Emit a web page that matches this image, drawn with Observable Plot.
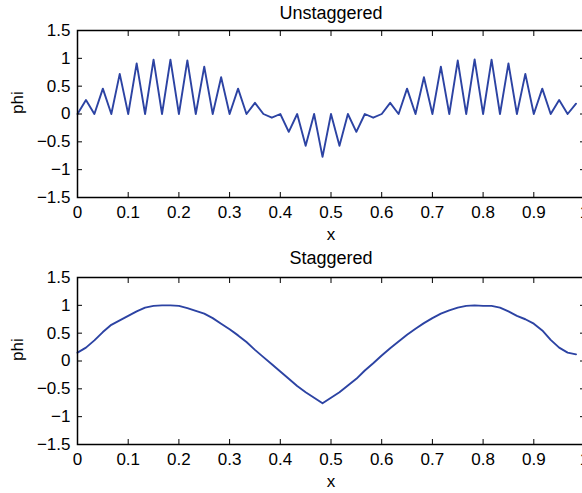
<!DOCTYPE html>
<html>
<head>
<meta charset="utf-8">
<script src="https://cdn.jsdelivr.net/npm/d3@7"></script>
<script src="https://cdn.jsdelivr.net/npm/@observablehq/plot@0.6"></script>
<style>
  html, body { margin: 0; padding: 0; overflow: hidden; background: #fff; }
  #chart { width: 582px; height: 493px; overflow: hidden; }
  #chart svg { display: block; max-width: none !important; }
</style>
</head>
<body>
<div id="chart"></div>
<script>
// Grid x positions (cell index / 60)
const xGrid = [0, 0.0167, 0.0333, 0.05, 0.0667, 0.0833, 0.1, 0.1167, 0.1333, 0.15,
  0.1667, 0.1833, 0.2, 0.2167, 0.2333, 0.25, 0.2667, 0.2833, 0.3, 0.3167,
  0.3333, 0.35, 0.3667, 0.3833, 0.4, 0.4167, 0.4333, 0.45, 0.4667, 0.4833,
  0.5, 0.5167, 0.5333, 0.55, 0.5667, 0.5833, 0.6, 0.6167, 0.6333, 0.65,
  0.6667, 0.6833, 0.7, 0.7167, 0.7333, 0.75, 0.7667, 0.7833, 0.8, 0.8167,
  0.8333, 0.85, 0.8667, 0.8833, 0.9, 0.9167, 0.9333, 0.95, 0.9667, 0.9833];

const phiUnstaggered = [0, 0.25, 0, 0.455, 0, 0.72, 0, 0.91, 0, 0.976,
  0, 0.976, 0, 0.964, 0, 0.85, 0, 0.66, 0, 0.455,
  0, 0.2, 0, -0.066, 0, -0.32, 0, -0.57, 0, -0.77,
  0, -0.57, 0, -0.32, 0, -0.066, 0, 0.2, 0, 0.455,
  0, 0.66, 0, 0.85, 0, 0.96, 0, 0.98, 0, 0.976,
  0, 0.91, 0, 0.72, 0, 0.455, 0, 0.25, 0, 0.186];

const phiStaggered = [0.15, 0.24, 0.37, 0.52, 0.65, 0.73, 0.81, 0.89, 0.96, 0.99,
  1.0, 1.0, 0.99, 0.95, 0.90, 0.85, 0.77, 0.67, 0.57, 0.46,
  0.34, 0.20, 0.07, -0.06, -0.19, -0.32, -0.45, -0.56, -0.66, -0.76,
  -0.66, -0.56, -0.44, -0.32, -0.17, -0.04, 0.10, 0.23, 0.35, 0.47,
  0.58, 0.68, 0.77, 0.85, 0.91, 0.96, 0.99, 1.0, 0.99, 0.99,
  0.96, 0.89, 0.81, 0.75, 0.67, 0.55, 0.38, 0.24, 0.15, 0.12];

const titles = ["Unstaggered", "Staggered"];
const xTicks = [0, 0.1, 0.2, 0.3, 0.4, 0.5, 0.6, 0.7, 0.8, 0.9, 1];
const yTicks = [-1.5, -1, -0.5, 0, 0.5, 1, 1.5];
const xLabel = "x";
const yLabel = "phi";

const fmt = d => (d < 0 ? "\u2212" + String(-d) : String(d));
const lineColor = "#2c43a3";
const FONT = "'Liberation Sans', Arial, Helvetica, sans-serif";
const FS = 17;
const TFS = 18;

function panel(title, values, height, marginTop, marginBottom, titleDy) {
  const data = xGrid.map((x, i) => ({x, phi: values[i]}));
  return Plot.plot({
    width: 600,
    height,
    marginLeft: 77,
    marginRight: 16,
    marginTop,
    marginBottom,
    style: {fontFamily: FONT, fontSize: FS + "px", color: "#000", background: "#fff", overflow: "visible", maxWidth: "none"},
    x: {domain: [0, 1]},
    y: {domain: [-1.5, 1.5]},
    marks: [
      Plot.line(data, {x: "x", y: "phi", stroke: lineColor, strokeWidth: 1.9}),
      Plot.frame({stroke: "#000", strokeWidth: 1.5}),
      Plot.axisX({anchor: "bottom", ticks: xTicks, tickSize: -5, tickPadding: 13, tickFormat: fmt, label: null, stroke: "#000", fill: "#000", fontSize: FS}),
      Plot.axisX({anchor: "top", ticks: xTicks, tickSize: -5, tickFormat: () => "", label: null, stroke: "#000"}),
      Plot.axisY({anchor: "left", ticks: yTicks, tickSize: -5, tickPadding: 12, tickFormat: fmt, label: null, stroke: "#000", fill: "#000", fontSize: FS}),
      Plot.axisY({anchor: "right", ticks: yTicks, tickSize: -5, tickFormat: () => "", label: null, stroke: "#000"}),
      Plot.text([title], {frameAnchor: "top", lineAnchor: "middle", dy: titleDy, fill: "#000", fontSize: TFS}),
      Plot.text([xLabel], {frameAnchor: "bottom", lineAnchor: "middle", dy: 37, fill: "#000", fontSize: FS}),
      Plot.text([yLabel], {frameAnchor: "left", lineAnchor: "middle", dx: -60, rotate: -90, fill: "#000", fontSize: FS})
    ]
  });
}

const chart = document.getElementById("chart");
chart.append(panel(titles[0], phiUnstaggered, 245, 30, 48, -17.5));
chart.append(panel(titles[1], phiStaggered, 248, 32, 49, -19));
</script>
</body>
</html>
